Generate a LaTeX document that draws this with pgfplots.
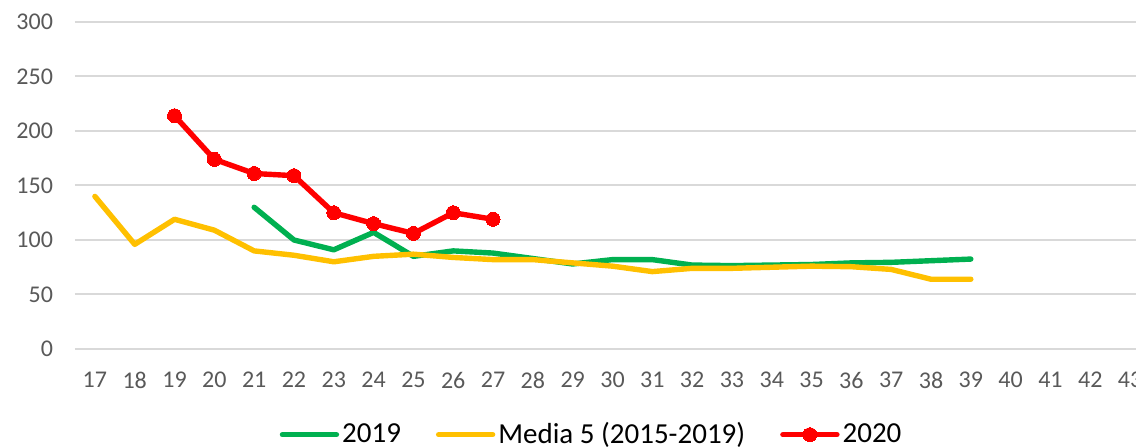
\documentclass[border=0pt]{standalone}
\usepackage{pgfplots}
\pgfplotsset{compat=1.18}
\usepackage{fontspec}
\setmainfont{Carlito}
\definecolor{ticktext}{HTML}{595959}
\definecolor{gridgray}{HTML}{D9D9D9}
\definecolor{green19}{HTML}{00B050}
\definecolor{media}{HTML}{FFC000}
\definecolor{red20}{HTML}{FF0000}

\begin{document}
\begin{tikzpicture}
\begin{axis}[
  scale only axis, width=537.5pt, height=163.5pt,
  xmin=16.5, xmax=43.5, ymin=0, ymax=300,
  xtick={17,...,43}, ytick={0,50,...,300},
  axis line style={draw=none}, tick style={draw=none},
  ymajorgrids, grid style={gridgray, line width=1pt},
  ticklabel style={font=\fontsize{12}{14}\selectfont, text=ticktext},
  yticklabel style={xshift=-7.5pt},
  xticklabel style={yshift=-8pt},
  /pgf/number format/assume math mode=true,
  clip=false,
  legend style={at={(0.481,-0.262)}, anchor=center, draw=none, fill=none,
    font=\fontsize{14.5}{16}\selectfont, legend columns=-1,
    nodes={inner xsep=1.5pt},
    /tikz/every even column/.append style={column sep=16pt}},
  legend image code/.code={\draw[mark repeat=2,mark phase=2,#1] plot coordinates {(0pt,0pt) (13.5pt,0pt) (27pt,0pt)};},
  every axis plot/.append style={line width=2.7pt, line cap=round, line join=round},
]
% 2019
\addplot[green19, no markers] coordinates {
(21,130) (22,100) (23,91) (24,107) (25,85) (26,90) (27,88) (28,83) (29,78) (30,82)
(31,82) (32,77) (33,76.5) (34,77) (35,77.5) (36,79) (37,79.5) (38,81) (39,82.5)};
\addlegendentry{2019}
% media 5 anni
\addplot[media, no markers] coordinates {
(17,140) (18,96) (19,119) (20,109) (21,90) (22,86) (23,80) (24,85) (25,87) (26,84)
(27,82) (28,82) (29,79) (30,76) (31,71) (32,74) (33,74) (34,75) (35,76) (36,75.5)
(37,73) (38,64) (39,64)};
\addlegendentry{Media 5 (2015-2019)}
% 2020
\addplot[red20, mark=*, mark size=3.5pt, mark options={solid, fill=red20, line width=0pt}] coordinates {
(19,214) (20,174) (21,161) (22,159) (23,125) (24,115) (25,106) (26,125) (27,119)};
\addlegendentry{2020}
\end{axis}
\pgfresetboundingbox
\useasboundingbox (-37.5pt,-49.5pt) rectangle (530.5pt,174.5pt);
\end{tikzpicture}
\end{document}
